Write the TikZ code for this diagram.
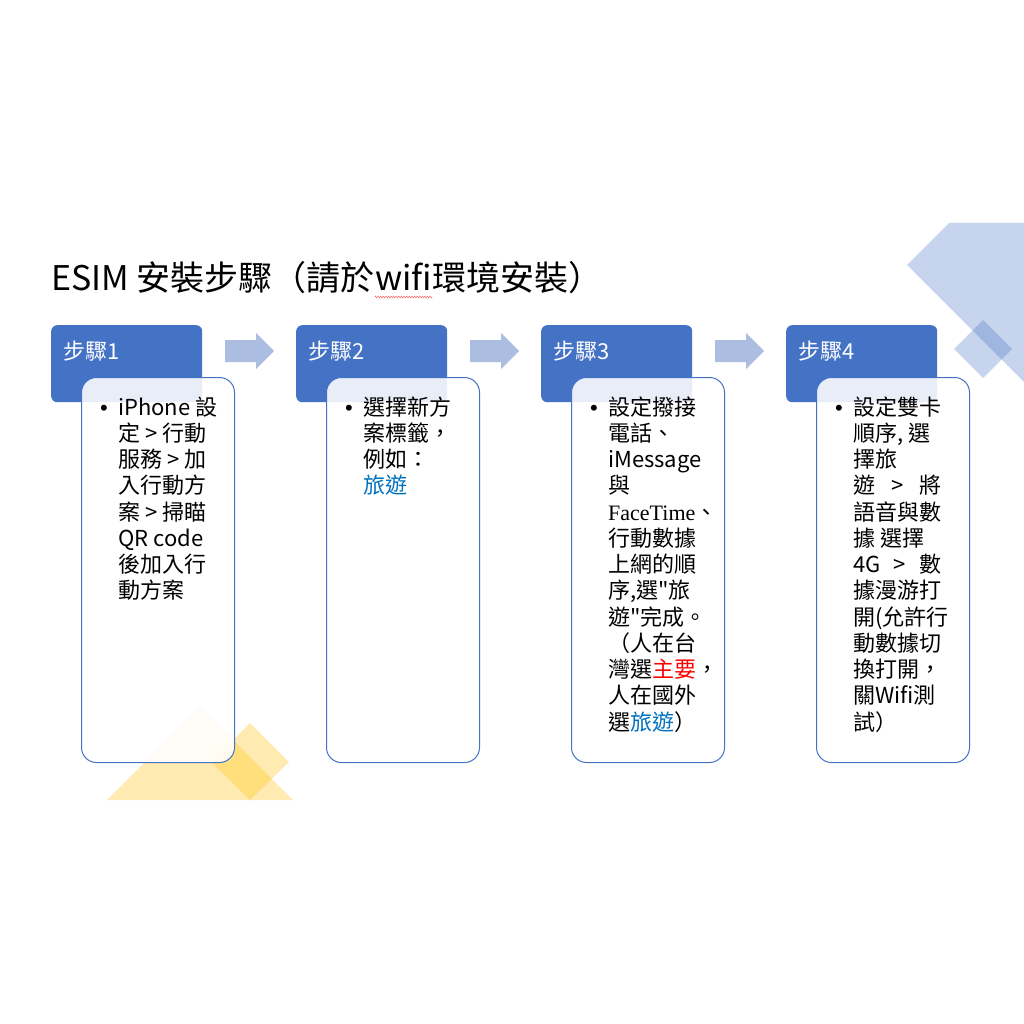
\documentclass[tikz,border=0pt]{standalone}
\usepackage{fontspec}
\setmainfont{Noto Sans CJK TC}[Ligatures=TeXOff]
\newfontfamily\serifL{Liberation Serif}
\newfontfamily\bulf{Liberation Sans}
\usetikzlibrary{decorations.pathmorphing}
\definecolor{hdr}{HTML}{4472C4}
\definecolor{tblue}{HTML}{0070C0}
\definecolor{arrowc}{RGB}{171,190,226}
\definecolor{gold}{RGB}{255,192,0}
\newcommand\ST{\rule{0pt}{20pt}}
\begin{document}
\begin{tikzpicture}[x=1pt,y=-1pt,
  header/.style={fill=hdr, rounded corners=6pt, minimum width=151pt, minimum height=77pt, anchor=north west, inner sep=0pt},
  contentbox/.style={draw=hdr, line width=1pt, fill=white, fill opacity=0.88, rounded corners=15pt, minimum width=153pt, minimum height=385pt, anchor=north west, inner sep=0pt},
  hlabel/.style={text=white, anchor=west, inner sep=0pt, font=\fontsize{22}{26}\selectfont},
  bodytext/.style={anchor=north west, inner sep=0pt, align=left, font=\fontsize{22}{26.25}\selectfont},
  bul/.style={anchor=base, inner sep=0pt, font=\bulf\fontsize{22}{26}\selectfont},
  titlef/.style={anchor=base west, inner sep=0pt, font=\fontsize{34}{40}\selectfont},
  yel/.style={fill=gold, fill opacity=0.3},
  bdeco/.style={fill=hdr, fill opacity=0.3},
  wavy/.style={draw=red!60, line width=0.5pt, decorate, decoration={zigzag, amplitude=0.9pt, segment length=2.6pt}}
]
\fill[white] (0,0) rectangle (1024,1024);
\useasboundingbox (0,0) rectangle (1024,1024);

% decorations
\fill[yel] (107,800) -- (200,707) -- (293,800) -- cycle;
\fill[yel] (250,723) -- (289,762) -- (250,800) -- (211,762) -- cycle;
\fill[bdeco] (907,265) -- (949,223) -- (1024,223) -- (1024,382) -- cycle;
\fill[bdeco] (983,320) -- (1012,349) -- (983,378) -- (954,349) -- cycle;

% title
\node[titlef] (t1) at (51,290) {ESIM 安裝步驟（請於};
\node[titlef] (t2) at (t1.base east) {wifi};
\node[titlef] (t3) at (t2.base east) {環境安裝）};
\draw[wavy] ([yshift=-7pt]t2.base west) -- ([yshift=-7pt]t2.base east);

% arrows
\foreach \dx in {0,245,490}{
  \fill[arrowc] ({225+\dx},340) -- ({256+\dx},340) -- ({256+\dx},333) -- ({274+\dx},351)
     -- ({256+\dx},369) -- ({256+\dx},362) -- ({225+\dx},362) -- cycle;
}

% headers
\node[header] (h1) at (51,325) {};
\node[header] (h2) at (296,325) {};
\node[header] (h3) at (541,325) {};
\node[header] (h4) at (786,325) {};
\node[hlabel] (l1) at (63,351) {步驟1};
\node[hlabel] (l2) at (308,351) {步驟2};
\node[hlabel] (l3) at (553,351) {步驟3};
\node[hlabel] (l4) at (798,351) {步驟4};

% content boxes
\node[contentbox] (b1) at (81,377) {};
\node[contentbox] (b2) at (326,377) {};
\node[contentbox] (b3) at (571,377) {};
\node[contentbox] (b4) at (816,377) {};

% bullets
\node[bul] (u1) at (104,415) {•};
\node[bul] (u2) at (349,415) {•};
\node[bul] (u3) at (594,415) {•};
\node[bul] (u4) at (839,415) {•};

% texts
\node[bodytext] (x1) at (118,395) {\ST{}iPhone 設\\定 > 行動\\服務 > 加\\入行動方\\案 > 掃瞄\\QR code\\後加入行\\動方案};
\node[bodytext] (x2) at (363,395) {\ST{}選擇新方\\案標籤，\\例如：\\\textcolor{tblue}{旅遊}};
\node[bodytext] (x3) at (608,395) {\ST{}設定撥接\\電話、\\iMessage\\與\\{\serifL FaceTime}、\\行動數據\\上網的順\\序,選"旅\\遊"完成。\\（人在台\\灣選\textcolor{red}{主要}，\\人在國外\\選\textcolor{tblue}{旅遊}）};
\node[bodytext] (x4) at (853,395) {\ST{}設定雙卡\\順序, 選\\擇旅\\\makebox[88pt][l]{遊\hfill{}>\hfill{}將}\\語音與數\\據 選擇\\\makebox[88pt][l]{4G\hfill{}>\hfill{}數}\\據漫游打\\開(允許行\\動數據切\\換打開，\\關Wifi測\\試）};
\end{tikzpicture}
\end{document}
